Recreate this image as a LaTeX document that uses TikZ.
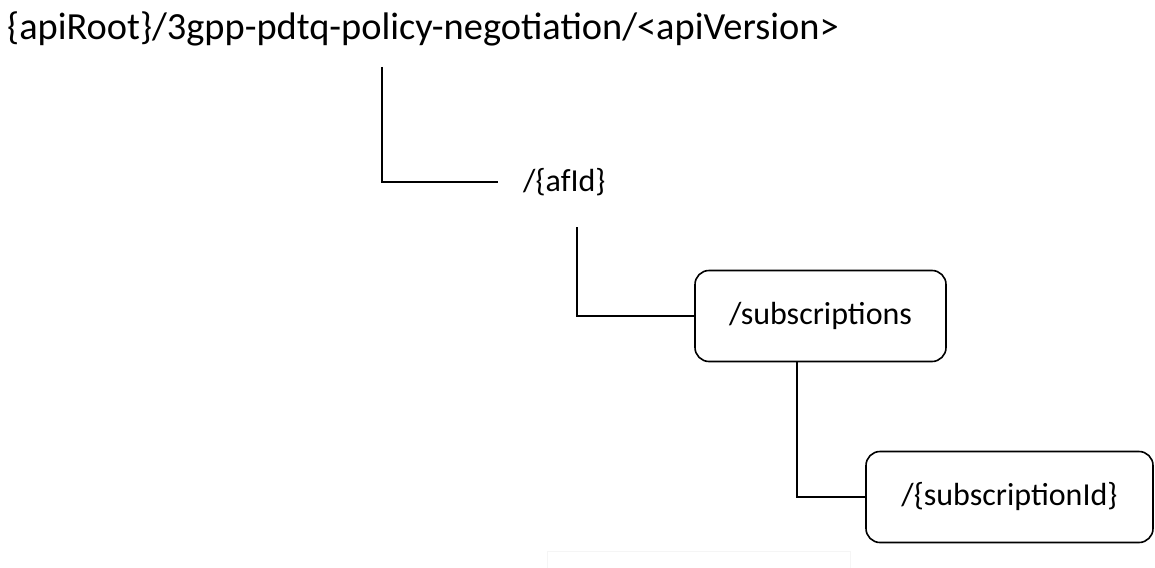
\documentclass[tikz,border=0pt]{standalone}
\usepackage{fontspec}
\setmainfont{Carlito}
\tikzset{
  resbox/.style={draw, line width=1.6pt, rounded corners=14pt, minimum height=91pt, font=\fontsize{32}{38}\selectfont},
  reslabel/.style={inner sep=0pt, font=\fontsize{32}{38}\selectfont},
  tree/.style={line width=1.6pt},
}
\begin{document}
\begin{tikzpicture}[x=1pt,y=-1pt]
  \useasboundingbox (0,0) rectangle (1155,567);
  \node[anchor=west, inner sep=0pt, font=\fontsize{38.4}{44}\selectfont] (root) at (7,29) {\{apiRoot\}/3gpp-pdtq-policy-negotiation/<apiVersion>};
  \node[reslabel, anchor=west] (afid) at (523,182) {/\{afId\}};
  \node[resbox, minimum width=251pt] (subs) at (820.5,316) {/subscriptions};
  \node[resbox, minimum width=287pt] (subid) at (1009.5,497) {/\{subscriptionId\}};
  % tree lines
  \coordinate (rootdrop) at (382,67);
  \coordinate (afiddrop) at (577,227);
  \draw[tree] (rootdrop) |- ([xshift=-25pt]afid.west);
  \draw[tree] (afiddrop) |- (subs.west);
  \draw[tree] ([xshift=-23.5pt]subs.south) |- (subid.west);
  % faint frame at the bottom
  \draw[black!4, line width=1pt] (547,570) -- (547,551) -- (850,551) -- (850,570);
\end{tikzpicture}
\end{document}
